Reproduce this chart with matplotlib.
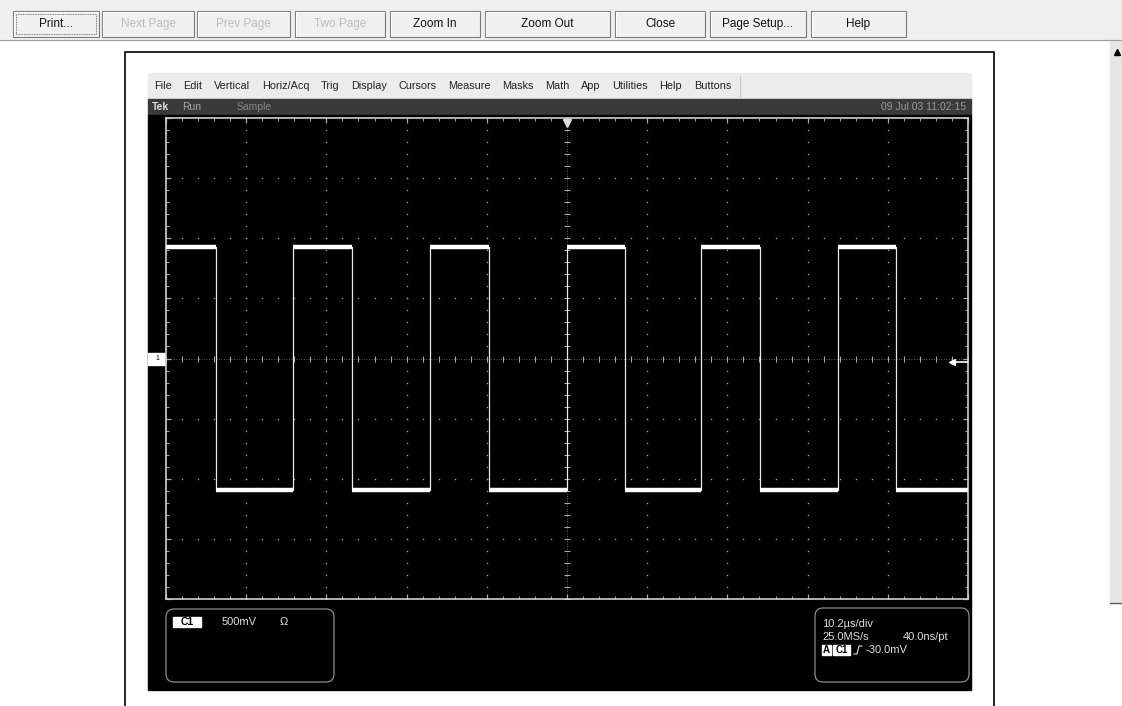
# Tek scope screen capture shown in a print preview window
import numpy as np
import matplotlib
matplotlib.use("Agg")
import matplotlib.pyplot as plt
from matplotlib.patches import Rectangle, FancyBboxPatch

plt.rcParams['font.family'] = ['Liberation Sans', 'DejaVu Sans']

# --- data ---
time_per_div = 10.2          # us/div
volts_per_div = 0.5          # V/div
edges_us = [-44.7, -34.8, -27.3, -17.4, -9.9, 0.0, 7.4, 17.1, 24.6, 34.5, 41.9]  # first edge falls
high_v = 0.93
low_v = -1.09
trig_level_v = -0.03

buttons = ['Print...', 'Next Page', 'Prev Page', 'Two Page', 'Zoom In', 'Zoom Out',
           'Close', 'Page Setup...', 'Help']
button_x = [(13, 99), (102, 194), (197, 290), (295, 385), (390, 480), (485, 610),
            (615, 705), (710, 806), (811, 906)]
button_enabled = [True, False, False, False, True, True, True, True, True]

menu_items = ['File', 'Edit', 'Vertical', 'Horiz/Acq', 'Trig', 'Display', 'Cursors',
              'Measure', 'Masks', 'Math', 'App', 'Utilities', 'Help', 'Buttons']

W, H = 1122, 706
fig = plt.figure(figsize=(W / 100, H / 100), dpi=100)
bg = fig.add_axes([0, 0, 1, 1])
bg.set_xlim(0, W)
bg.set_ylim(H, 0)
bg.axis('off')

# window toolbar
bg.add_patch(Rectangle((0, 0), W, 40, color='#efefef', zorder=0))
bg.plot([0, W], [40, 40], color='#a0a0a0', lw=0.8)
for label, (x0, x1), en in zip(buttons, button_x, button_enabled):
    bg.add_patch(Rectangle((x0, 11), x1 - x0, 26, facecolor='#f0f0f0',
                           edgecolor='#7a7a7a', lw=0.8))
    bg.plot([x0 + 1, x0 + 1, x1 - 1], [36, 12, 12], color='white', lw=0.8)
    bg.text((x0 + x1) / 2, 24, label, ha='center', va='center', fontsize=8.5,
            color='#111111' if en else '#bdbdbd')
bg.add_patch(Rectangle((16, 14), 80, 20, fill=False, edgecolor='#555555',
                       lw=0.6, linestyle=(0, (1, 1))))

# page and scrollbar
bg.add_patch(Rectangle((1110, 40), 12, 563, color='#e6e6e6'))
bg.plot([1110, W], [603, 603], color='#606060', lw=1)
bg.plot([1117], [52], marker='^', color='black', markersize=5)
bg.plot([125, 125, 994, 994], [H, 52, 52, H], color='black', lw=1.2)

# scope window: menu bar, spread evenly from x=154 to x=731
bg.add_patch(Rectangle((148, 73), 823, 26, color='#ececec'))
menu_texts = [bg.text(0, 86, name, ha='left', va='center', fontsize=7.8, color='#222222')
              for name in menu_items]
renderer = fig.canvas.get_renderer()
widths = [t.get_window_extent(renderer).width for t in menu_texts]
gap = (731 - 154 - sum(widths)) / (len(widths) - 1)
x = 154
for t, w in zip(menu_texts, widths):
    t.set_x(x)
    x += w + gap
bg.plot([740, 740], [76, 97], color='#c8c8c8', lw=0.8)

bg.add_patch(Rectangle((148, 99), 823, 16, color='#3a3a3a'))
bg.text(152, 107, 'Tek', ha='left', va='center', fontsize=7.5, color='#dddddd',
        fontweight='bold')
bg.text(182, 107, 'Run', ha='left', va='center', fontsize=7.5, color='#aaaaaa')
bg.text(237, 107, 'Sample', ha='left', va='center', fontsize=7.5, color='#888888')
bg.text(966, 107, '09 Jul 03 11:02:15', ha='right', va='center', fontsize=7.5,
        color='#9a9a9a')
bg.add_patch(Rectangle((148, 115), 823, 575, color='black'))

# channel 1 ground marker
bg.add_patch(Rectangle((148, 353), 18, 12, color='white'))
bg.text(157, 359, '1', ha='center', va='center', fontsize=5, color='black')

# readout boxes
for (x0, y0, w, h) in [(837, 130, 120, 51), (837, 193, 120, 53),
                       (166, 609, 168, 73), (815, 608, 154, 74)]:
    bg.add_patch(FancyBboxPatch((x0, y0), w, h, boxstyle='round,pad=0,rounding_size=8',
                                fill=False, edgecolor='#8c8c8c', lw=0.9))

bg.add_patch(Rectangle((173, 617), 28, 10, color='white'))
bg.text(187, 622, 'C1', ha='center', va='center', fontsize=7.5, color='black',
        fontweight='bold')
bg.text(222, 622, '500mV', ha='left', va='center', fontsize=8, color='#dddddd')
bg.text(280, 622, 'Ω', ha='left', va='center', fontsize=8, color='#dddddd')

bg.text(822, 624, '10.2µs/div', ha='left', va='center', fontsize=8, color='#dddddd')
bg.text(822, 637, '25.0MS/s', ha='left', va='center', fontsize=8, color='#dddddd')
bg.text(948, 637, '40.0ns/pt', ha='right', va='center', fontsize=8, color='#dddddd')
bg.add_patch(Rectangle((822, 645), 9, 10, color='white'))
bg.text(826.5, 650, 'A', ha='center', va='center', fontsize=7, color='black',
        fontweight='bold')
bg.add_patch(Rectangle((833, 645), 17, 10, color='white'))
bg.text(841.5, 650, 'C1', ha='center', va='center', fontsize=7, color='black',
        fontweight='bold')
bg.plot([854, 857, 859, 862], [654, 654, 646, 646], color='#dddddd', lw=0.8)
bg.text(866, 650, '-30.0mV', ha='left', va='center', fontsize=8, color='#dddddd')

# graticule axes
ax = fig.add_axes([166 / W, 1 - 599 / H, 802 / W, 481 / H])
ax.set_facecolor('black')
xmax = 5 * time_per_div
ymax = 4 * volts_per_div
ax.set_xlim(-xmax, xmax)
ax.set_ylim(-ymax, ymax)
for s in ax.spines.values():
    s.set_color('#cfcfcf')
    s.set_linewidth(1.2)
ax.set_xticks(np.arange(-5, 6) * time_per_div)
ax.set_xticks(np.arange(-25, 26) * time_per_div / 5, minor=True)
ax.set_yticks(np.arange(-4, 5) * volts_per_div)
ax.set_yticks(np.arange(-20, 21) * volts_per_div / 5, minor=True)
ax.tick_params(which='both', direction='in', colors='#aaaaaa', top=True, right=True,
               labelbottom=False, labelleft=False)
ax.tick_params(which='major', length=3.5, width=0.9)
ax.tick_params(which='minor', length=2.2, width=0.7)

# dotted grid
xminor = np.arange(-25, 26) * time_per_div / 5
yminor = np.arange(-20, 21) * volts_per_div / 5
for k in range(-4, 5):
    if k == 0:
        continue
    ax.scatter(np.full(len(yminor), k * time_per_div), yminor, s=1.2, color='#9a9a9a',
               lw=0, zorder=1)
for k in range(-3, 4):
    if k == 0:
        continue
    ax.scatter(xminor, np.full(len(xminor), k * volts_per_div), s=1.2, color='#9a9a9a',
               lw=0, zorder=1)

# centre axes with ticks
ax.axhline(0, color='#7a7a7a', lw=0.6, linestyle=(0, (1, 2)), zorder=1)
ax.axvline(0, color='#7a7a7a', lw=0.6, linestyle=(0, (1, 2)), zorder=1)
ax.plot(xminor, np.zeros(len(xminor)), linestyle='none', marker='|', markersize=5,
        color='#aaaaaa', markeredgewidth=0.8, zorder=1)
ax.plot(np.zeros(len(yminor)), yminor, linestyle='none', marker='_', markersize=5,
        color='#aaaaaa', markeredgewidth=0.8, zorder=1)

# trace
xs = [-xmax]
ys = [high_v]
level = high_v
for e in edges_us:
    xs += [e, e]
    nxt = low_v if level == high_v else high_v
    ys += [level, nxt]
    level = nxt
xs.append(xmax)
ys.append(level)
ax.plot(xs, ys, color='#e8e8e8', lw=0.9, zorder=3)
seg_x = [-xmax] + edges_us + [xmax]
for i in range(len(seg_x) - 1):
    v = high_v if i % 2 == 0 else low_v
    ax.plot([seg_x[i], seg_x[i + 1]], [v, v], color='white', lw=3.2,
            solid_capstyle='butt', zorder=3)

# trigger markers
ax.plot([0], [ymax - 0.04], marker='v', color='#dddddd', markersize=6, zorder=4,
        clip_on=False)
ax.plot([49.0], [trig_level_v], marker='<', color='white', markersize=5, zorder=4)
ax.plot([49.0, xmax], [trig_level_v, trig_level_v], color='white', lw=1.2, zorder=4)

bg.text(222, 227, 'S Clock', ha='left', va='center', fontsize=7.5, color='#cccccc')

fig.savefig('out.png', dpi=100)
